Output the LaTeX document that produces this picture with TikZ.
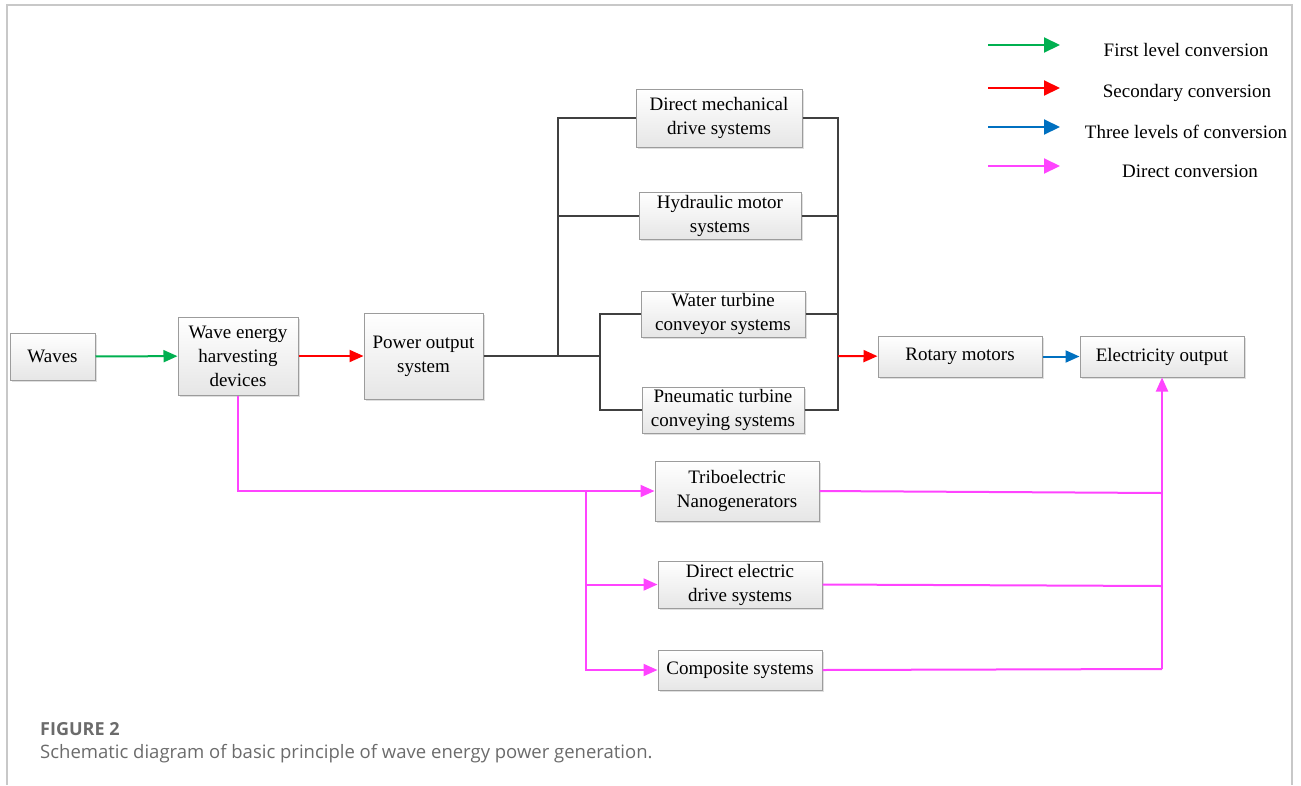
\documentclass[tikz,border=0pt]{standalone}
\usepackage{fontspec}
\setmainfont{Liberation Serif}
\newfontfamily\capfont{Open Sans}
\usetikzlibrary{arrows.meta,shadows}

\definecolor{lvlone}{HTML}{00B050}
\definecolor{lvltwo}{HTML}{FF0000}
\definecolor{lvlthree}{HTML}{0070C0}
\definecolor{direct}{HTML}{FF44FF}
\definecolor{boxline}{HTML}{9C9C9C}
\definecolor{boxfill}{HTML}{E6E6E6}
\definecolor{linkgray}{HTML}{404040}
\definecolor{framegray}{HTML}{C8C8C8}
\definecolor{capgray}{HTML}{6B6B6B}

\tikzset{
  box/.style={draw=boxline, line width=1pt, top color=white, bottom color=boxfill,
    align=center, inner sep=0pt, font=\fontsize{19}{24}\selectfont,
    drop shadow={shadow xshift=2pt, shadow yshift=-2pt, opacity=0.25}},
  link/.style={draw=linkgray, line width=2pt},
  flow/.style={line width=2pt, -{Triangle[length=14pt,width=12pt]}},
  keyflow/.style={line width=2pt, -{Triangle[length=16pt,width=15pt]}},
}

\begin{document}
\begin{tikzpicture}[x=1pt,y=-1pt]
\useasboundingbox (0,0) rectangle (1301,785);
\draw[framegray, line width=1.5pt] (7,785) -- (7,5) -- (1292,5) -- (1292,785);

% main chain
\node[box, minimum width=85, minimum height=47] (waves) at (52.5,356.5) {Waves};
\node[box, minimum width=120, minimum height=78] (harvest) at (238,356) {Wave energy\\harvesting\\devices};
\node[box, minimum width=119, minimum height=86] (power) at (423.5,356) {Power output\\system};

% transmission systems
\node[box, minimum width=166, minimum height=58] (mech) at (719,118) {Direct mechanical\\drive systems};
\node[box, minimum width=162, minimum height=47] (hydr) at (720,215.5) {Hydraulic motor\\systems};
\node[box, minimum width=164, minimum height=46] (water) at (723,314) {Water turbine\\conveyor systems};
\node[box, minimum width=162, minimum height=46] (pneu) at (723,410) {Pneumatic turbine\\conveying systems};

\node[box, minimum width=164, minimum height=41] (rotary) at (960,356.5) {Rotary motors};
\node[box, minimum width=164, minimum height=41] (elec) at (1162,356.5) {Electricity output};

% direct conversion
\node[box, minimum width=164, minimum height=60] (teng) at (737,491) {Triboelectric\\Nanogenerators};
\node[box, minimum width=164, minimum height=47] (drive) at (740,584.5) {Direct electric\\drive systems};
\node[box, minimum width=164, minimum height=40] (comp) at (740,670) {Composite systems};

\draw[flow, lvlone] (waves) -- (harvest);
\draw[flow, lvltwo] (harvest) -- (power);

% black tree
\coordinate (jA) at (558,356);
\coordinate (jB) at (600,356);
\coordinate (jR) at (838,356);
\draw[link] (power.east) -- (jB);
\draw[link] (jA) |- (mech.west);
\draw[link] (jA) |- (hydr.west);
\draw[link] (jB) |- (water.west);
\draw[link] (jB) |- (pneu.west);
\draw[link] (mech.east) -| (jR);
\draw[link] (hydr.east) -| (jR);
\draw[link] (water.east) -| (jR);
\draw[link] (pneu.east) -| (jR);

\draw[flow, lvltwo] (jR) -- (rotary);
\draw[flow, lvlthree] (rotary) -- (elec);

% magenta branch
\coordinate (jM) at (586,491);
\draw[flow, direct] (harvest.south) |- (teng.west);
\draw[flow, direct] (jM) |- (drive.west);
\draw[flow, direct] (jM) |- (comp.west);
\coordinate (eT) at (1162,493);
\coordinate (eD) at (1162,586);
\coordinate (eC) at (1162,669);
\draw[direct, line width=2pt] (teng.east) -- (eT);
\draw[direct, line width=2pt] (drive.east) -- (eD);
\draw[direct, line width=2pt] (comp.east) -- (eC);
\draw[flow, direct] (eC) -- (elec.south);

% legend
\foreach \y/\col/\txt/\tx [count=\i] in {45/lvlone/First level conversion/1186,
  88/lvltwo/Secondary conversion/1187,
  127/lvlthree/Three levels of conversion/1186,
  166/direct/Direct conversion/1190}{
  \coordinate (la\i) at (988,\y);
  \coordinate (lb\i) at (1060,\y);
  \draw[keyflow, \col] (la\i) -- (lb\i);
  \node[font=\fontsize{19}{24}\selectfont] (lt\i) at (\tx,\y+5) {\txt};
}

% caption
\node[anchor=base west, font=\capfont\bfseries\fontsize{18}{22}\selectfont, text=capgray, inner sep=0pt] (figno) at (40,735) {FIGURE 2};
\node[anchor=base west, font=\capfont\fontsize{18.5}{22}\selectfont, text=capgray, inner sep=0pt] (figcap) at (40,758) {Schematic diagram of basic principle of wave energy power generation.};
\end{tikzpicture}
\end{document}
